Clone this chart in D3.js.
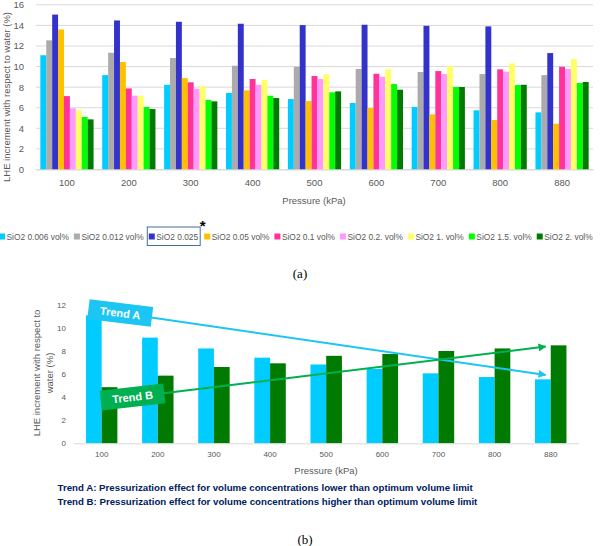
<!DOCTYPE html>
<html><head><meta charset="utf-8">
<script src="https://cdn.jsdelivr.net/npm/d3@7"></script>
<style>body{margin:0;background:#fff}svg{display:block}</style>
</head><body>
<svg id="c" width="600" height="546"></svg>
<script>
// ---------- DATA ----------
const pressures = ["100","200","300","400","500","600","700","800","880"];
const seriesNames = ["SiO2 0.006 vol%","SiO2 0.012 vol%","SiO2 0.025","SiO2 0.05 vol%","SiO2 0.1 vol%","SiO2 0.2. vol%","SiO2 1. vol%","SiO2 1.5. vol%","SiO2 2. vol%"];
const seriesColors = ["#00CCFF","#ABABAB","#3333CC","#FFC000","#FF3399","#FF99FF","#FFFF66","#00FF00","#007A00"];
const v0006 = [11.10, 9.17, 8.23, 7.43, 6.84, 6.46, 6.07, 5.75, 5.55];
const v0012 = [12.55,11.34,10.83,10.08, 9.98, 9.76, 9.47, 9.27, 9.17];
const v0025 = [15.05,14.48,14.35,14.16,14.03,14.06,13.96,13.90,11.31];
const v005  = [13.60,10.44, 8.88, 7.69, 6.65, 5.97, 5.36, 4.81, 4.45];
const v01   = [ 7.13, 7.88, 8.47, 8.79, 9.08, 9.30, 9.56, 9.73, 9.98];
const v02   = [ 5.94, 7.17, 7.85, 8.23, 8.79, 9.01, 9.27, 9.50, 9.76];
const v1    = [ 5.75, 7.17, 8.10, 8.69, 9.24, 9.73,10.05,10.31,10.73];
const v15   = [ 5.10, 6.07, 6.75, 7.17, 7.50, 8.30, 8.01, 8.20, 8.40];
const v2    = [ 4.87, 5.87, 6.62, 6.94, 7.59, 7.75, 8.01, 8.23, 8.50];
const allSeries = [v0006,v0012,v0025,v005,v01,v02,v1,v15,v2];
const topYTicks = [0,2,4,6,8,10,12,14,16];
const botYTicks = [0,2,4,6,8,10,12];
// bottom chart: lowest and highest concentration
const botSeries = [v0006, v2];
const botColors = ["#00CCFF","#007A00"];
// trend arrows: [category index, value] start (label centre) and end
const trendA = {label:"Trend A", start:[0.33,11.31], end:[7.91,5.93], color:"#1DC6F2", angle:7};
const trendB = {label:"Trend B", start:[0.55,4.02], end:[7.91,8.39], color:"#00B050", angle:-6.5};
const noteA = "Trend A: Pressurization effect for volume concentrations lower than optimum volume limit";
const noteB = "Trend B: Pressurization effect for volume concentrations higher than optimum volume limit";

const svg = d3.select("#c");
const FONT = "'Liberation Sans', Arial, sans-serif";
const gray = "#595959";

// ---------- TOP CHART ----------
const x0 = d3.scaleBand().domain(pressures).range([36,593]).paddingInner(0.14).paddingOuter(0.07);
const x1 = d3.scaleBand().domain(d3.range(seriesNames.length)).range([0,x0.bandwidth()]);
const y0 = d3.scaleLinear().domain([0,16]).range([169.5,4.8]);

const gTop = svg.append("g");
gTop.selectAll("line.grid").data(topYTicks).join("line")
  .attr("x1",36).attr("x2",593)
  .attr("y1",d=>y0(d)).attr("y2",d=>y0(d))
  .attr("stroke","#D9D9D9").attr("stroke-width",1);
gTop.selectAll("text.yt").data(topYTicks).join("text")
  .attr("x",24).attr("y",d=>y0(d)+3.5).attr("text-anchor","end")
  .attr("font-family",FONT).attr("font-size",9.5).attr("fill",gray).text(d=>d);

const groups = gTop.selectAll("g.grp").data(pressures).join("g")
  .attr("transform",d=>`translate(${x0(d)},0)`);
groups.selectAll("rect").data((p,i)=>allSeries.map((s,k)=>({k,v:s[i]}))).join("rect")
  .attr("x",d=>x1(d.k)).attr("width",x1.bandwidth())
  .attr("y",d=>y0(d.v)).attr("height",d=>y0(0)-y0(d.v))
  .attr("fill",d=>seriesColors[d.k]);

const xAxisTop = d3.axisBottom(x0).tickSize(0).tickPadding(10);
gTop.append("g").attr("transform",`translate(0,${y0(0)})`).call(xAxisTop)
  .call(g=>g.select(".domain").attr("stroke","#D9D9D9"))
  .call(g=>g.selectAll("text").attr("font-family",FONT).attr("font-size",9.5).attr("fill",gray));

gTop.append("text").attr("x",314).attr("y",203.5).attr("text-anchor","middle")
  .attr("font-family",FONT).attr("font-size",9.5).attr("fill",gray).text("Pressure (kPa)");
gTop.append("text").attr("transform","translate(10,97) rotate(-90)").attr("text-anchor","middle")
  .attr("font-family",FONT).attr("font-size",9.5).attr("fill",gray)
  .text("LHE increment with respect to water (%)");

// legend
const leg = svg.append("g");
let lx = -1;
const legY = 237;
seriesNames.forEach((n,k)=>{
  leg.append("rect").attr("x",lx).attr("y",legY-3.5).attr("width",6).attr("height",6).attr("fill",seriesColors[k]);
  const t = leg.append("text").attr("x",lx+7.5).attr("y",legY+3).attr("font-family",FONT)
    .attr("font-size",8.4).attr("fill",gray).text(n);
  const w = t.node().getComputedTextLength();
  if (k===2) {
    leg.append("rect").attr("x",lx-1.5).attr("y",227).attr("width",w+11).attr("height",18.5)
      .attr("fill","none").attr("stroke","#41719C").attr("stroke-width",1);
    leg.append("text").attr("x",lx+w+12).attr("y",231).attr("text-anchor","middle")
      .attr("font-family",FONT).attr("font-size",15).attr("font-weight","bold").attr("fill","#000").text("*");
  }
  lx += 7.5 + w + (k===2 ? 6 : 5);
});

svg.append("text").attr("x",300).attr("y",277.5).attr("text-anchor","middle")
  .attr("font-family","'Liberation Serif', 'Times New Roman', serif").attr("font-size",13).attr("fill","#000").text("(a)");

// ---------- BOTTOM CHART ----------
const bx0 = d3.scaleBand().domain(pressures).range([73.6,578.8]).paddingInner(0.44).paddingOuter(0.22);
const bx1 = d3.scaleBand().domain([0,1]).range([0,bx0.bandwidth()]);
const by = d3.scaleLinear().domain([0,12]).range([443.3,305]);
const bIdx = d3.scaleLinear().domain([0,pressures.length-1])
  .range([bx0(pressures[0])+bx0.bandwidth()/2, bx0(pressures[pressures.length-1])+bx0.bandwidth()/2]);

const gB = svg.append("g");
gB.selectAll("text.yt").data(botYTicks).join("text")
  .attr("x",66).attr("y",d=>by(d)+3).attr("text-anchor","end")
  .attr("font-family",FONT).attr("font-size",8).attr("fill",gray).text(d=>d);

const bgroups = gB.selectAll("g.grp").data(pressures).join("g")
  .attr("transform",d=>`translate(${bx0(d)},0)`);
bgroups.selectAll("rect").data((p,i)=>botSeries.map((s,k)=>({k,v:s[i]}))).join("rect")
  .attr("x",d=>bx1(d.k)).attr("width",bx1.bandwidth())
  .attr("y",d=>by(d.v)).attr("height",d=>by(0)-by(d.v))
  .attr("fill",d=>botColors[d.k]);

gB.append("g").attr("transform",`translate(0,${by(0)})`).call(d3.axisBottom(bx0).tickSize(0).tickPadding(8))
  .call(g=>g.select(".domain").attr("stroke","#D9D9D9"))
  .call(g=>g.selectAll("text").attr("font-family",FONT).attr("font-size",8).attr("fill",gray));

gB.append("text").attr("x",326).attr("y",473.5).attr("text-anchor","middle")
  .attr("font-family",FONT).attr("font-size",9.5).attr("fill",gray).text("Pressure (kPa)");
const yl = gB.append("text").attr("transform","translate(0,373) rotate(-90)").attr("text-anchor","middle")
  .attr("font-family",FONT).attr("font-size",9.5).attr("fill",gray);
yl.append("tspan").attr("x",0).attr("y",40).text("LHE increment with respect to");
yl.append("tspan").attr("x",0).attr("y",53).text("water (%)");

// arrows
const defs = svg.append("defs");
[trendA,trendB].forEach((t,i)=>{
  defs.append("marker").attr("id","ar"+i).attr("viewBox","0 0 10 10").attr("refX",9).attr("refY",5)
    .attr("markerWidth",4).attr("markerHeight",4).attr("orient","auto")
    .append("path").attr("d","M0,0L10,5L0,10z").attr("fill",t.color);
});
[trendA,trendB].forEach((t,i)=>{
  gB.append("line")
    .attr("x1",bIdx(t.start[0])).attr("y1",by(t.start[1]))
    .attr("x2",bIdx(t.end[0])).attr("y2",by(t.end[1]))
    .attr("stroke",t.color).attr("stroke-width",2).attr("marker-end",`url(#ar${i})`);
});
[trendA,trendB].forEach(t=>{
  const g = gB.append("g").attr("transform",`translate(${bIdx(t.start[0])},${by(t.start[1])}) rotate(${t.angle})`);
  g.append("rect").attr("x",-32).attr("y",-10).attr("width",64).attr("height",20).attr("fill",t.color);
  g.append("text").attr("x",0).attr("y",4).attr("text-anchor","middle").attr("font-family",FONT)
    .attr("font-size",11).attr("font-weight","bold").attr("fill","#fff").text(t.label);
});

svg.append("text").attr("x",57.5).attr("y",490.5).attr("font-family",FONT).attr("font-size",9.7)
  .attr("font-weight","bold").attr("fill","#002060").text(noteA);
svg.append("text").attr("x",57.5).attr("y",505).attr("font-family",FONT).attr("font-size",9.7)
  .attr("font-weight","bold").attr("fill","#002060").text(noteB);

svg.append("text").attr("x",305).attr("y",543.5).attr("text-anchor","middle")
  .attr("font-family","'Liberation Serif', 'Times New Roman', serif").attr("font-size",13).attr("fill","#000").text("(b)");
</script>
</body></html>
